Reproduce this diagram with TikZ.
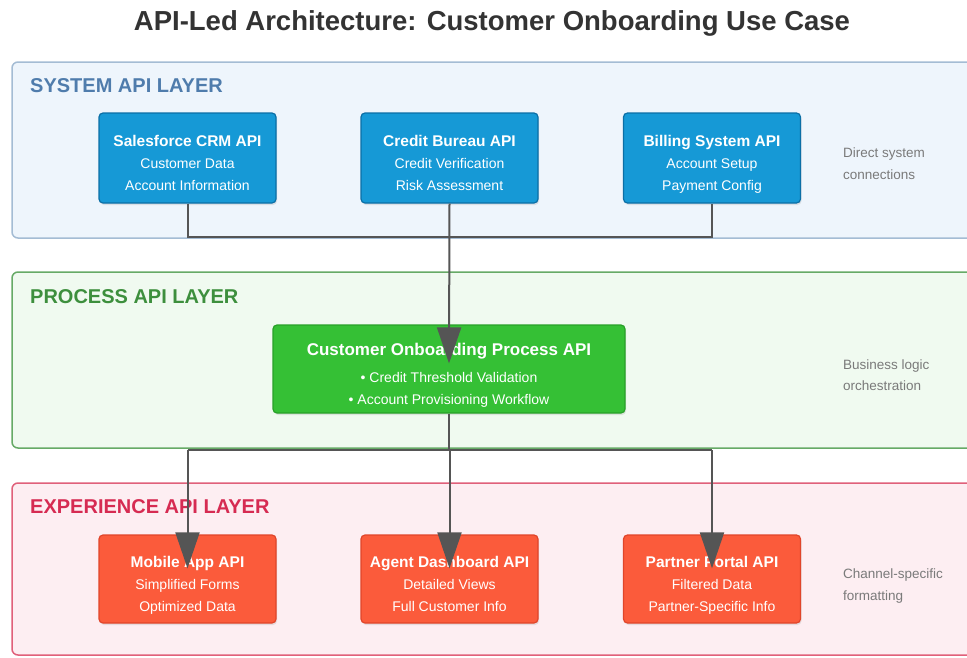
\documentclass[tikz,border=0pt]{standalone}
\usepackage{fontspec}
\setmainfont{Liberation Sans}
\usetikzlibrary{arrows.meta,shadows}
\definecolor{titlecol}{HTML}{333333}
\definecolor{sysfill}{HTML}{EEF5FC}
\definecolor{sysdraw}{HTML}{A4BCD4}
\definecolor{syslab}{HTML}{4F7CAC}
\definecolor{procfill}{HTML}{F0FAF0}
\definecolor{procdraw}{HTML}{66AA66}
\definecolor{proclab}{HTML}{3D8F3D}
\definecolor{expfill}{HTML}{FDEEF2}
\definecolor{expdraw}{HTML}{E0607A}
\definecolor{explab}{HTML}{D62B52}
\definecolor{bluebox}{HTML}{1699D6}
\definecolor{blueedge}{HTML}{0B6FA6}
\definecolor{greenbox}{HTML}{35C035}
\definecolor{greenedge}{HTML}{28A028}
\definecolor{redbox}{HTML}{FB5B3B}
\definecolor{rededge}{HTML}{E0452A}
\definecolor{conncol}{HTML}{555555}
\definecolor{sidecol}{HTML}{7A7A7A}
\newcommand\TopPad[1]{\rule{0pt}{#1}}
\newcommand\BotPad{\rule[-5pt]{0pt}{5pt}}
\begin{document}
\begin{tikzpicture}[x=1pt,y=-1pt,
  layer/.style={rounded corners=6pt, line width=1.5pt, inner sep=0pt},
  laylabel/.style={anchor=west, inner sep=0pt, font=\fontsize{20}{24}\selectfont\bfseries},
  apibox/.style={rounded corners=4pt, line width=1.2pt, inner sep=0pt, text=white,
     minimum width=177, minimum height=90, align=center,
     font=\fontsize{14}{22}\selectfont,
     drop shadow={opacity=0.18, shadow xshift=1pt, shadow yshift=-2pt}},
  sysbox/.style={apibox, fill=bluebox, draw=blueedge},
  expbox/.style={apibox, fill=redbox, draw=rededge, minimum height=88},
  procbox/.style={apibox, fill=greenbox, draw=greenedge, minimum width=352, minimum height=88},
  sidenote/.style={anchor=west, inner sep=0pt, align=left, text=sidecol,
     font=\fontsize{13.5}{22}\selectfont},
  conn/.style={draw=conncol, line width=2pt},
  arr/.style={conn, -{Triangle[length=36pt,width=24pt]}}
]
\useasboundingbox (0,0) rectangle (967,657);
\fill[white] (0,0) rectangle (967,657);

\node[inner sep=0pt, text=titlecol, font=\fontsize{27.5}{32}\selectfont\bfseries] (title) at (492,23) {API-Led Architecture: Customer Onboarding Use Case};

\begin{scope}
\clip (0,0) rectangle (967,657);
\node[layer, fill=sysfill, draw=sysdraw, minimum width=990, minimum height=176] (syslayer) at (507,150) {};
\node[layer, fill=procfill, draw=procdraw, minimum width=990, minimum height=176] (proclayer) at (507,360) {};
\node[layer, fill=expfill, draw=expdraw, minimum width=990, minimum height=172] (explayer) at (507,569) {};
\end{scope}

\node[laylabel, text=syslab] (syslabel) at (30,86) {SYSTEM API LAYER};
\node[laylabel, text=proclab] (proclabel) at (30,297) {PROCESS API LAYER};
\node[laylabel, text=explab] (explabel) at (30,507) {EXPERIENCE API LAYER};

% system boxes
\node[sysbox] (sf) at (187.5,158) {\TopPad{25pt}{\fontsize{15.5}{22}\selectfont\bfseries Salesforce CRM API}\\Customer Data\\Account Information\BotPad};
\node[sysbox] (cb) at (449.5,158) {\TopPad{25pt}{\fontsize{15.5}{22}\selectfont\bfseries Credit Bureau API}\\Credit Verification\\Risk Assessment\BotPad};
\node[sysbox] (bill) at (712,158) {\TopPad{25pt}{\fontsize{15.5}{22}\selectfont\bfseries Billing System API}\\Account Setup\\Payment Config\BotPad};

% process box
\node[procbox] (proc) at (449,369) {\TopPad{27pt}{\fontsize{17}{22}\selectfont\bfseries Customer Onboarding Process API}\\[5pt]• Credit Threshold Validation\\• Account Provisioning Workflow\BotPad};

% experience boxes
\node[expbox] (mob) at (187.5,579) {\TopPad{25pt}{\fontsize{15.5}{22}\selectfont\bfseries Mobile App API}\\Simplified Forms\\Optimized Data\BotPad};
\node[expbox] (agent) at (449.5,579) {\TopPad{25pt}{\fontsize{15.5}{22}\selectfont\bfseries Agent Dashboard API}\\Detailed Views\\Full Customer Info\BotPad};
\node[expbox] (par) at (712,579) {\TopPad{25pt}{\fontsize{15.5}{22}\selectfont\bfseries Partner Portal API}\\Filtered Data\\Partner-Specific Info\BotPad};

% side notes
\node[sidenote] (sysnote) at (843,164) {Direct system\\connections};
\node[sidenote, font=\fontsize{13.5}{21}\selectfont] (procnote) at (843,375) {Business logic\\orchestration};
\node[sidenote] (expnote) at (843,586) {Channel-specific\\formatting};

% connectors
\coordinate (sy) at (0,237);
\coordinate (py) at (0,450);
\draw[conn] (sf.south) -- (sf.south |- sy) -- (bill.south |- sy) -- (bill.south);
\draw[arr] (cb.south) -- ([yshift=-39pt]proc.north);
\draw[conn] (proc.south) -- (proc.south |- py);
\draw[conn] (mob.north |- py) -- (par.north |- py);
\draw[arr] (mob.north |- py) -- ([yshift=-34pt]mob.north);
\draw[arr] (agent.north |- py) -- ([yshift=-34pt]agent.north);
\draw[arr] (par.north |- py) -- ([yshift=-34pt]par.north);
\end{tikzpicture}
\end{document}
